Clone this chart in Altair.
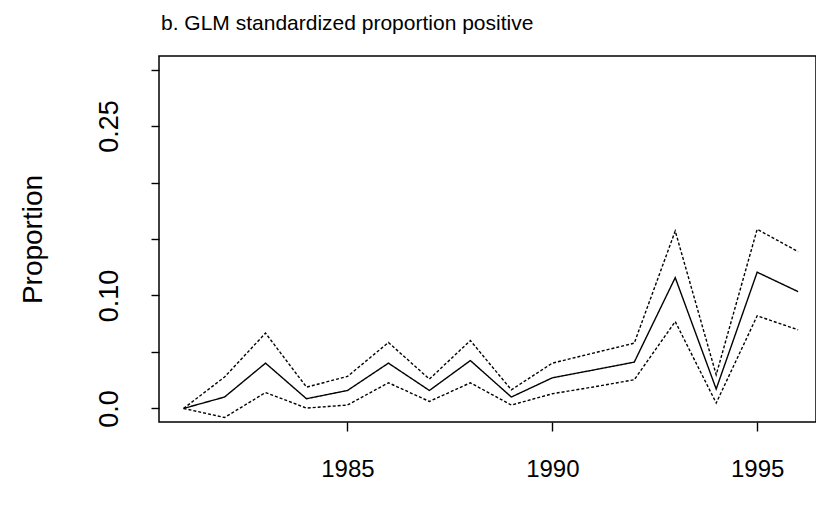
import altair as alt
import pandas as pd

# ---- data ----
years = list(range(1981, 1997))
estimate = [0.0, 0.0101, 0.0401, 0.0086, 0.0159, 0.0401, 0.0159, 0.0424,
            0.0101, 0.0271, 0.0340, 0.0410, 0.1158, 0.0172, 0.1206, 0.1034]
upper = [0.0, 0.0278, 0.0667, 0.0189, 0.0283, 0.0584, 0.0260, 0.0601,
         0.0165, 0.0401, 0.0490, 0.0578, 0.1571, 0.0298, 0.1586, 0.1388]
lower = [0.0, -0.0080, 0.0141, 0.0003, 0.0030, 0.0227, 0.0062, 0.0227,
         0.0030, 0.0130, 0.0190, 0.0254, 0.0769, 0.0048, 0.0820, 0.0696]

x_ticks = [1985, 1990, 1995]
y_ticks = [0.0, 0.05, 0.10, 0.15, 0.20, 0.25, 0.30]
y_labels = {0.0: "0.0", 0.10: "0.10", 0.25: "0.25"}

title_text = "b. GLM standardized proportion positive"
y_title = "Proportion"

rows = []
for name, vals in (("estimate", estimate), ("upper", upper), ("lower", lower)):
    for yr, v in zip(years, vals):
        rows.append({"year": yr, "value": v, "series": name})
df = pd.DataFrame(rows)

label_expr = " : ".join(
    f"abs(datum.value - {k}) < 1e-9 ? '{v}'" for k, v in y_labels.items()
) + " : ''"

FONT = "Liberation Sans"

chart = alt.Chart(df).mark_line(color="black", strokeWidth=1.4).encode(
    x=alt.X(
        "year:Q",
        scale=alt.Scale(domain=[1980.4, 1996.436], nice=False, zero=False),
        axis=alt.Axis(
            values=x_ticks, title=None, format="d", grid=False, domain=False,
            tickSize=9, tickColor="black", tickWidth=1.4,
            labelFont=FONT, labelFontSize=24, labelColor="black",
            labelBaseline="alphabetic", labelPadding=45, labelFlush=False,
        ),
    ),
    y=alt.Y(
        "value:Q",
        scale=alt.Scale(domain=[-0.012, 0.312], nice=False, zero=False),
        axis=alt.Axis(
            values=y_ticks, labelExpr=label_expr, grid=False, domain=False,
            tickSize=8, tickColor="black", tickWidth=1.4,
            labelFont=FONT, labelFontSize=27, labelColor="black",
            labelAngle=270, labelAlign="center", labelBaseline="alphabetic",
            labelPadding=34, labelFlush=False, labelOverlap=False,
            title=y_title, titleFont=FONT, titleFontSize=28,
            titleFontWeight="normal", titleColor="black", titleAngle=270,
            titleAlign="center", titleBaseline="alphabetic",
            titleX=-118, titleY=183,
        ),
    ),
    strokeDash=alt.StrokeDash(
        "series:N",
        scale=alt.Scale(domain=["estimate", "upper", "lower"],
                        range=[[1, 0], [3, 2], [3, 2]]),
        legend=None,
    ),
).properties(
    width=657,
    height=366,
    title=alt.Title(
        title_text, anchor="start", frame="group", font=FONT, fontSize=21,
        fontWeight="normal", color="black", baseline="alphabetic",
        offset=5, dx=2,
    ),
    autosize=alt.AutoSizeParams(type="none"),
    padding={"left": 151, "top": 48, "right": 0, "bottom": 70},
).configure(
    background="white",
    view=alt.ViewConfig(stroke="black", strokeWidth=1.5, fill="white"),
)

chart.save("out.html", embed_options={"renderer": "svg", "actions": False})
